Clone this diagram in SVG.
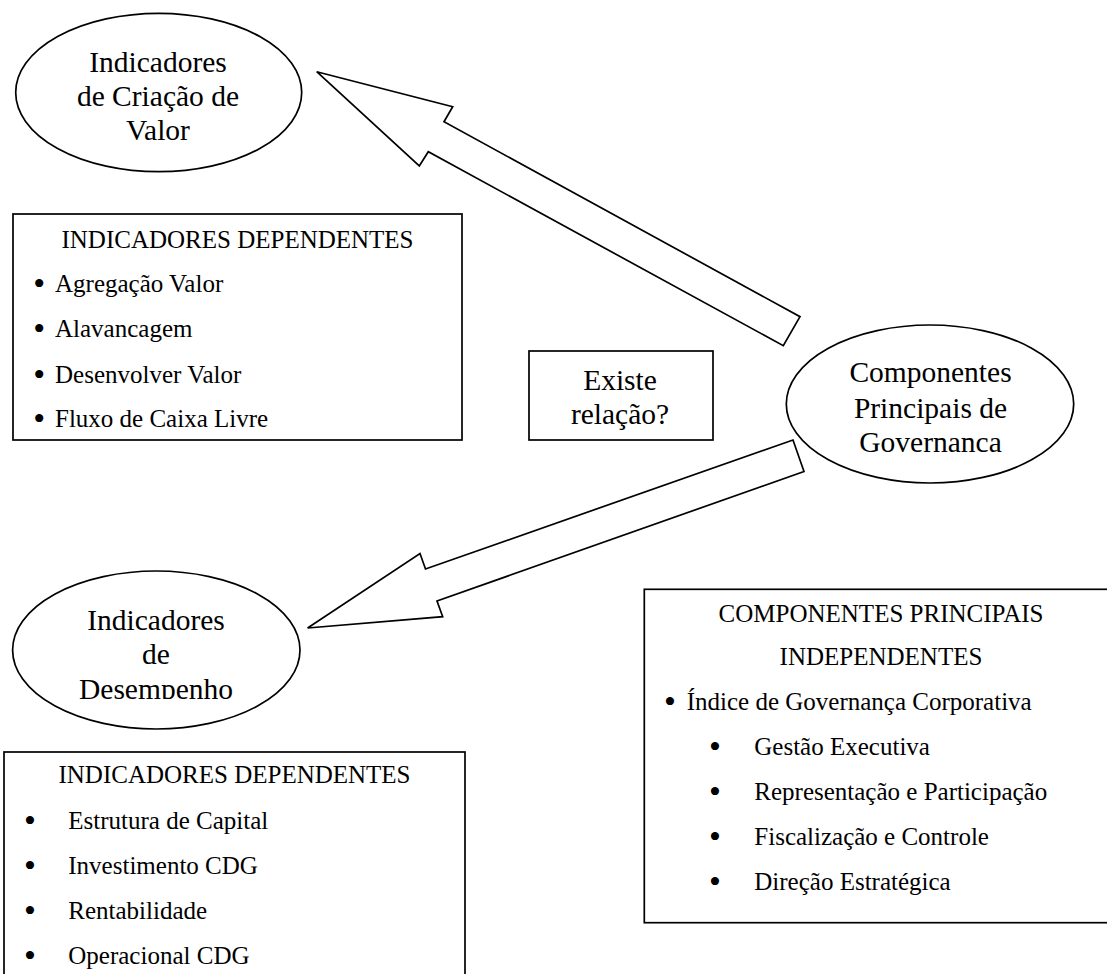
<svg xmlns="http://www.w3.org/2000/svg" width="1107" height="974" viewBox="0 0 1107 974">
<style>
.shape{fill:#fff;stroke:#000;stroke-width:1.7}
.big{font-family:"Liberation Serif","Times New Roman",serif;font-size:29.5px;fill:#000;text-anchor:middle}
.txt{font-family:"Liberation Serif","Times New Roman",serif;font-size:25px;fill:#000}
.mid{text-anchor:middle}
.bul{font-family:"Liberation Serif","Times New Roman",serif;font-size:34px;fill:#000;text-anchor:middle}
</style>
<defs>
<clipPath id="clipDes"><rect x="0" y="560" width="320" height="139"/></clipPath>
</defs>
<rect x="0" y="0" width="1107" height="974" fill="#fff"/>

<g id="connectors">
<polygon class="shape" points="316.7,71.7 452.7,106.7 444,121.7 800,316.7 783.3,345.7 428.3,151.7 419.3,166"/>
<polygon class="shape" points="307.6,628 420,553.5 425.5,569 793,440 804,471.5 437,601 442.7,616.7"/>
</g>

<g id="node-criacao-valor">
<ellipse class="shape" cx="158.7" cy="92.5" rx="143" ry="79.2"/>
<text class="big" x="158" y="72">Indicadores</text>
<text class="big" x="158" y="106">de Criação de</text>
<text class="big" x="158" y="140">Valor</text>
</g>

<g id="box-dependentes-valor">
<rect class="shape" x="13" y="214" width="449" height="226"/>
<text class="txt mid" x="237.5" y="248">INDICADORES DEPENDENTES</text>
<text class="bul" x="39.3" y="295">•</text><text class="txt" x="55" y="292">Agregação Valor</text>
<text class="bul" x="39.3" y="340">•</text><text class="txt" x="55" y="337">Alavancagem</text>
<text class="bul" x="39.3" y="385.5">•</text><text class="txt" x="55" y="382.5">Desenvolver Valor</text>
<text class="bul" x="39.3" y="430">•</text><text class="txt" x="55" y="427">Fluxo de Caixa Livre</text>
</g>

<g id="box-existe-relacao">
<rect class="shape" x="529" y="351" width="184" height="89"/>
<text class="big" x="620" y="389.5">Existe</text>
<text class="big" x="620" y="423.5">relação?</text>
</g>

<g id="node-governanca">
<ellipse class="shape" cx="930" cy="404" rx="143.7" ry="79"/>
<text class="big" x="930.5" y="382">Componentes</text>
<text class="big" x="930.5" y="418">Principais de</text>
<text class="big" x="930.5" y="452">Governanca</text>
</g>

<g id="node-desempenho">
<ellipse class="shape" cx="156.3" cy="650" rx="143.7" ry="79"/>
<g clip-path="url(#clipDes)">
<text class="big" x="156" y="630">Indicadores</text>
<text class="big" x="156" y="664">de</text>
<text class="big" x="156" y="698.5">Desempenho</text>
</g>
</g>

<g id="box-dependentes-desempenho">
<rect class="shape" x="4" y="752" width="461" height="240"/>
<text class="txt mid" x="234.5" y="783">INDICADORES DEPENDENTES</text>
<text class="bul" x="30" y="831.5">•</text><text class="txt" x="68.3" y="828.5">Estrutura de Capital</text>
<text class="bul" x="30" y="876.5">•</text><text class="txt" x="68.3" y="873.5">Investimento CDG</text>
<text class="bul" x="30" y="922">•</text><text class="txt" x="68.3" y="919">Rentabilidade</text>
<text class="bul" x="30" y="967">•</text><text class="txt" x="68.3" y="964">Operacional CDG</text>
</g>

<g id="box-independentes">
<rect class="shape" x="644.3" y="589.3" width="475" height="333.4"/>
<text class="txt mid" x="881" y="621.7">COMPONENTES PRINCIPAIS</text>
<text class="txt mid" x="881" y="665">INDEPENDENTES</text>
<text class="bul" x="670" y="712.5">•</text><text class="txt" x="686.7" y="709.5">Índice de Governança Corporativa</text>
<text class="bul" x="715" y="757.5">•</text><text class="txt" x="754.3" y="754.5">Gestão Executiva</text>
<text class="bul" x="715" y="803">•</text><text class="txt" x="754.3" y="800">Representação e Participação</text>
<text class="bul" x="715" y="848">•</text><text class="txt" x="754.3" y="845">Fiscalização e Controle</text>
<text class="bul" x="715" y="893">•</text><text class="txt" x="754.3" y="890">Direção Estratégica</text>
</g>
</svg>
